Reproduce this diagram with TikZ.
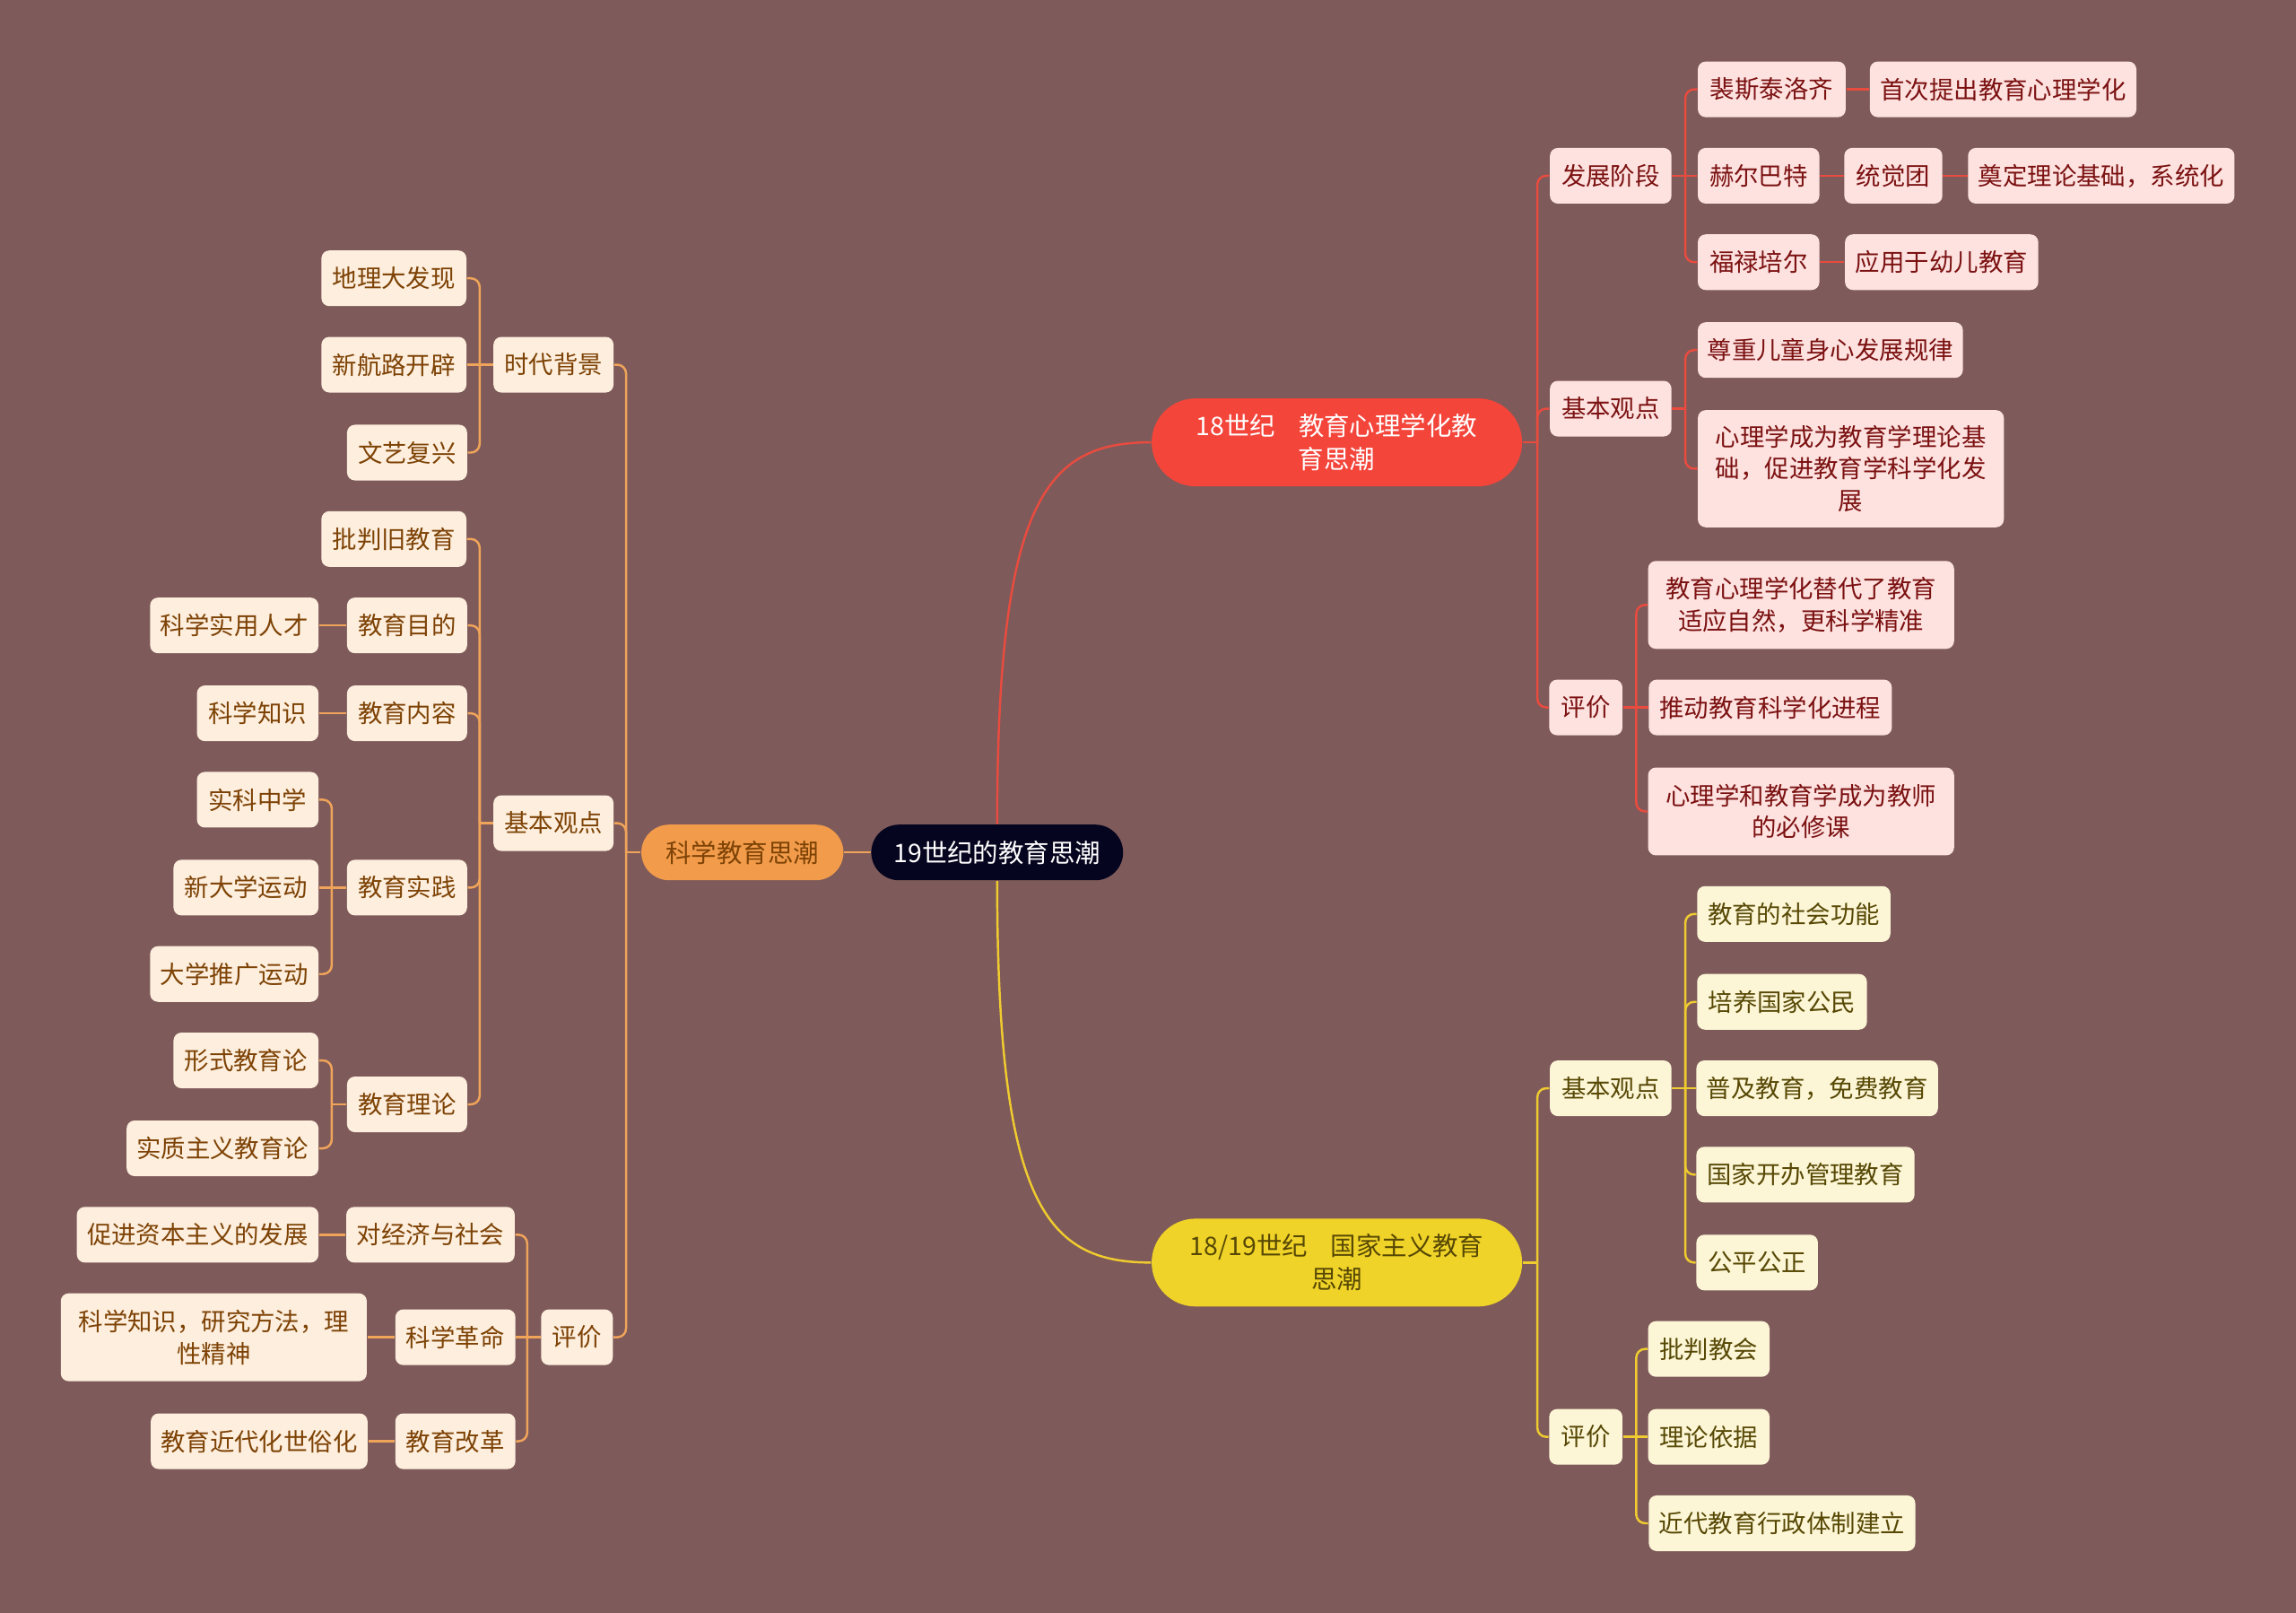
\documentclass[tikz,border=0pt]{standalone}
\usepackage{fontspec}
\setmainfont{Noto Sans CJK SC}
\usetikzlibrary{shapes.misc}
\newlength{\pxu}\setlength{\pxu}{0.016327cm}
\newcommand{\nf}{\fontsize{7.8pt}{10.2pt}\selectfont}
\newcommand{\mf}{\fontsize{8.1pt}{10.4pt}\selectfont}
\definecolor{bgc}{HTML}{7E5A5A}
\definecolor{ctrfill}{HTML}{06051F}
\definecolor{redmain}{HTML}{F4453B}
\definecolor{yelmain}{HTML}{F0D328}
\definecolor{ormain}{HTML}{F29C4B}
\definecolor{redfill}{HTML}{FDE2E0}
\definecolor{redtext}{HTML}{7B1111}
\definecolor{yelfill}{HTML}{FCF6D6}
\definecolor{yeltext}{HTML}{574805}
\definecolor{orfill}{HTML}{FDEEDD}
\definecolor{ortext}{HTML}{7D4205}
\definecolor{redline}{HTML}{E94B3F}
\definecolor{yelline}{HTML}{EFCB30}
\definecolor{orline}{HTML}{F0A45A}
\tikzset{
  basebox/.style={rectangle, rounded corners=2.5pt, minimum height=38\pxu, inner sep=0pt, align=center, font=\nf},
  redbox/.style={basebox, fill=redfill, text=redtext},
  yelbox/.style={basebox, fill=yelfill, text=yeltext},
  orbox/.style={basebox, fill=orfill, text=ortext},
  pill/.style={shape=rounded rectangle, inner sep=0pt, align=center, font=\mf},
  redln/.style={draw=redline, line width=0.7pt, rounded corners=6\pxu},
  yelln/.style={draw=yelline, line width=0.7pt, rounded corners=6\pxu},
  orln/.style={draw=orline, line width=0.7pt, rounded corners=6\pxu},
}
\begin{document}
\begin{tikzpicture}[x=0.016327cm, y=-0.016327cm]
\fill[bgc] (0,0) rectangle (1568,1101);
\useasboundingbox (0,0) rectangle (1568,1101);

% main nodes
\node[pill, fill=ctrfill, text=white, minimum width=172\pxu, minimum height=38\pxu] (ctr) at (681,582) {19世纪的教育思潮};
\node[pill, fill=ormain, text=ortext, minimum width=138\pxu, minimum height=38\pxu] (om) at (507,582) {科学教育思潮};
\node[pill, fill=redmain, text=white, minimum width=253\pxu, minimum height=60\pxu] (rm) at (913,302) {18世纪\hspace{0.9em}教育心理学化教\\育思潮};
\node[pill, fill=yelmain, text=yeltext, minimum width=253\pxu, minimum height=60\pxu] (ym) at (913,862) {18/19世纪\hspace{0.9em}国家主义教育\\思潮};

% red branch
\node[redbox, minimum width=83\pxu] (r1) at (1100,120) {发展阶段};
\node[redbox, minimum width=101\pxu] (r11) at (1210,61) {裴斯泰洛齐};
\node[redbox, minimum width=182\pxu] (r111) at (1368,61) {首次提出教育心理学化};
\node[redbox, minimum width=83\pxu] (r12) at (1201,120) {赫尔巴特};
\node[redbox, minimum width=67\pxu] (r121) at (1293,120) {统觉团};
\node[redbox, minimum width=182\pxu] (r122) at (1435,120) {奠定理论基础，系统化};
\node[redbox, minimum width=83\pxu] (r13) at (1201,179) {福禄培尔};
\node[redbox, minimum width=132\pxu] (r131) at (1326,179) {应用于幼儿教育};
\node[redbox, minimum width=83\pxu] (r2) at (1100,279) {基本观点};
\node[redbox, minimum width=181\pxu] (r21) at (1250,239) {尊重儿童身心发展规律};
\node[redbox, minimum width=209\pxu, minimum height=80\pxu] (r22) at (1264,320) {心理学成为教育学理论基\\础，促进教育学科学化发\\展};
\node[redbox, minimum width=50\pxu] (r3) at (1083,483) {评价};
\node[redbox, minimum width=209\pxu, minimum height=60\pxu] (r31) at (1230,413) {教育心理学化替代了教育\\适应自然，更科学精准};
\node[redbox, minimum width=166\pxu] (r32) at (1209,483) {推动教育科学化进程};
\node[redbox, minimum width=209\pxu, minimum height=60\pxu] (r33) at (1230,554) {心理学和教育学成为教师\\的必修课};

% yellow branch
\node[yelbox, minimum width=83\pxu] (y1) at (1100,743) {基本观点};
\node[yelbox, minimum width=132\pxu] (y11) at (1225,624) {教育的社会功能};
\node[yelbox, minimum width=116\pxu] (y12) at (1217,684) {培养国家公民};
\node[yelbox, minimum width=165\pxu] (y13) at (1241,743) {普及教育，免费教育};
\node[yelbox, minimum width=149\pxu] (y14) at (1233,802) {国家开办管理教育};
\node[yelbox, minimum width=83\pxu] (y15) at (1200,862) {公平公正};
\node[yelbox, minimum width=50\pxu] (y2) at (1083,981) {评价};
\node[yelbox, minimum width=83\pxu] (y21) at (1167,921) {批判教会};
\node[yelbox, minimum width=83\pxu] (y22) at (1167,981) {理论依据};
\node[yelbox, minimum width=182\pxu] (y23) at (1217,1040) {近代教育行政体制建立};

% orange branch
\node[orbox, minimum width=82\pxu] (o1) at (378,249) {时代背景};
\node[orbox, minimum width=99\pxu] (o11) at (269,190) {地理大发现};
\node[orbox, minimum width=99\pxu] (o12) at (269,249) {新航路开辟};
\node[orbox, minimum width=82\pxu] (o13) at (278,309) {文艺复兴};
\node[orbox, minimum width=82\pxu] (o2) at (378,562) {基本观点};
\node[orbox, minimum width=99\pxu] (o21) at (269,368) {批判旧教育};
\node[orbox, minimum width=82\pxu] (o22) at (278,427) {教育目的};
\node[orbox, minimum width=115\pxu] (o221) at (160,427) {科学实用人才};
\node[orbox, minimum width=82\pxu] (o23) at (278,487) {教育内容};
\node[orbox, minimum width=83\pxu] (o231) at (176,487) {科学知识};
\node[orbox, minimum width=82\pxu] (o24) at (278,606) {教育实践};
\node[orbox, minimum width=83\pxu] (o241) at (176,546) {实科中学};
\node[orbox, minimum width=99\pxu] (o242) at (168,606) {新大学运动};
\node[orbox, minimum width=115\pxu] (o243) at (160,665) {大学推广运动};
\node[orbox, minimum width=82\pxu] (o25) at (278,754) {教育理论};
\node[orbox, minimum width=99\pxu] (o251) at (168,724) {形式教育论};
\node[orbox, minimum width=131\pxu] (o252) at (152,784) {实质主义教育论};
\node[orbox, minimum width=49\pxu] (o3) at (394,913) {评价};
\node[orbox, minimum width=115\pxu] (o31) at (294,843) {对经济与社会};
\node[orbox, minimum width=165\pxu] (o311) at (135,843) {促进资本主义的发展};
\node[orbox, minimum width=82\pxu] (o32) at (311,913) {科学革命};
\node[orbox, minimum width=209\pxu, minimum height=60\pxu] (o321) at (146,913) {科学知识，研究方法，理\\性精神};
\node[orbox, minimum width=82\pxu] (o33) at (311,984) {教育改革};
\node[orbox, minimum width=148\pxu] (o331) at (177,984) {教育近代化世俗化};

% main connectors
\draw[orln] (ctr.west) -- (om.east);
\draw[redln] (ctr.north) .. controls (681,340) and (715,302) .. (rm.west);
\draw[yelln] (ctr.south) .. controls (681,824) and (715,862) .. (ym.west);

% red connectors
\draw[redln] (rm.east) -- ++(10,0) coordinate (rms);
\foreach \c in {r1,r2,r3} \draw[redln] (rms) |- (\c.west);
\draw[redln] (r1.east) -- ++(9,0) coordinate (r1s);
\foreach \c in {r11,r13} \draw[redln] (r1s) |- (\c.west);
\draw[redln] (r1.east) -- (r12.west);
\draw[redln] (r11.east) -- (r111.west);
\draw[redln] (r12.east) -- (r121.west);
\draw[redln] (r121.east) -- (r122.west);
\draw[redln] (r13.east) -- (r131.west);
\draw[redln] (r2.east) -- ++(9,0) coordinate (r2s);
\foreach \c in {r21,r22} \draw[redln] (r2s) |- (\c.west);
\draw[redln] (r3.east) -- ++(9,0) coordinate (r3s);
\foreach \c in {r31,r33} \draw[redln] (r3s) |- (\c.west);
\draw[redln] (r3.east) -- (r32.west);

% yellow connectors
\draw[yelln] (ym.east) -- ++(10,0) coordinate (yms);
\foreach \c in {y1,y2} \draw[yelln] (yms) |- (\c.west);
\draw[yelln] (y1.east) -- ++(9,0) coordinate (y1s);
\foreach \c in {y11,y12,y14,y15} \draw[yelln] (y1s) |- (\c.west);
\draw[yelln] (y1.east) -- (y13.west);
\draw[yelln] (y2.east) -- ++(9,0) coordinate (y2s);
\foreach \c in {y21,y23} \draw[yelln] (y2s) |- (\c.west);
\draw[yelln] (y2.east) -- (y22.west);

% orange connectors
\draw[orln] (om.west) -- ++(-10,0) coordinate (oms);
\foreach \c in {o1,o2,o3} \draw[orln] (oms) |- (\c.east);
\draw[orln] (o1.west) -- ++(-9,0) coordinate (o1s);
\foreach \c in {o11,o13} \draw[orln] (o1s) |- (\c.east);
\draw[orln] (o1.west) -- (o12.east);
\draw[orln] (o2.west) -- ++(-9,0) coordinate (o2s);
\foreach \c in {o21,o22,o23,o24,o25} \draw[orln] (o2s) |- (\c.east);
\draw[orln] (o22.west) -- (o221.east);
\draw[orln] (o23.west) -- (o231.east);
\draw[orln] (o24.west) -- ++(-10,0) coordinate (o24s);
\foreach \c in {o241,o243} \draw[orln] (o24s) |- (\c.east);
\draw[orln] (o24.west) -- (o242.east);
\draw[orln] (o25.west) -- ++(-10,0) coordinate (o25s);
\foreach \c in {o251,o252} \draw[orln] (o25s) |- (\c.east);
\draw[orln] (o3.west) -- ++(-9,0) coordinate (o3s);
\foreach \c in {o31,o33} \draw[orln] (o3s) |- (\c.east);
\draw[orln] (o3.west) -- (o32.east);
\draw[orln] (o31.west) -- (o311.east);
\draw[orln] (o32.west) -- (o321.east);
\draw[orln] (o33.west) -- (o331.east);
\end{tikzpicture}
\end{document}
